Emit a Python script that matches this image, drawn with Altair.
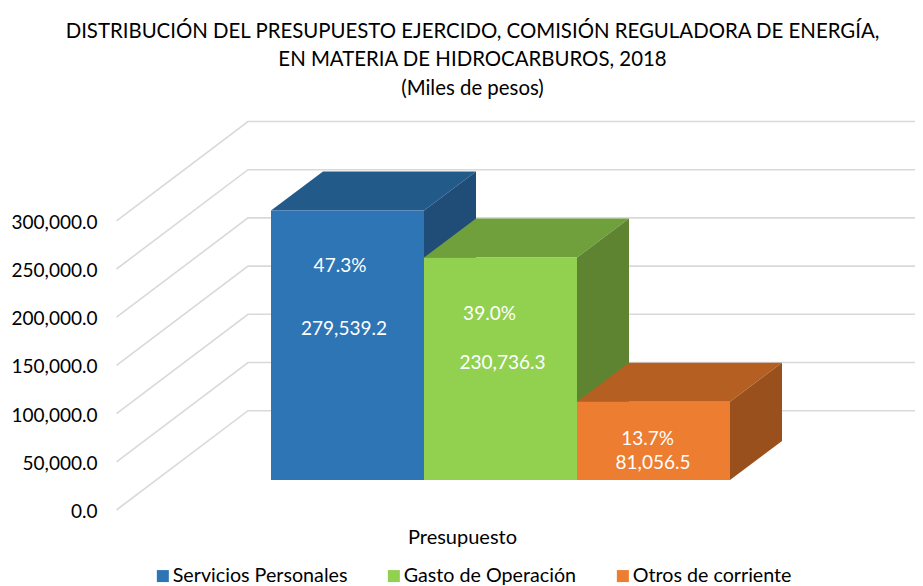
import altair as alt
import pandas as pd

# --- values
categories = ["Servicios Personales", "Gasto de Operación", "Otros de corriente"]
values = [279539.2, 230736.3, 81056.5]
value_labels = ["279,539.2", "230,736.3", "81,056.5"]
percent_labels = ["47.3%", "39.0%", "13.7%"]
ticks = [0, 50000, 100000, 150000, 200000, 250000, 300000]
title_lines = [
    "DISTRIBUCIÓN DEL PRESUPUESTO EJERCIDO, COMISIÓN REGULADORA DE ENERGÍA,",
    "EN MATERIA DE HIDROCARBUROS, 2018",
    "(Miles de pesos)",
]
front_colors = ["#2E75B6", "#92D050", "#ED7D31"]
top_colors = ["#225A8A", "#70A03B", "#B55F22"]
side_colors = ["#1F4D78", "#5F8431", "#9A501C"]

# --- layout (page pixels converted to the chart's data units)
FONT = "Lato"
TEXT = "#000000"
UNIT_PX = 153.0
K = 48.2 / 50000
PAD_TOP = 102
W, H = 907, 476


def ux(px):
    return (px - 271.0) / UNIT_PX


def uy(py):
    return (510.0 - py) / K


BASE = uy(480)
DX = 52 / UNIT_PX
DY = 39 / K
WALL = 99.3 / K
x_scale = alt.Scale(domain=[ux(8), ux(915)], nice=False, zero=False)
y_scale = alt.Scale(domain=[uy(586), uy(110)], nice=False, zero=False)

x_axis = alt.Axis(
    title="Presupuesto",
    labels=False,
    ticks=False,
    domain=False,
    grid=False,
    titleFont=FONT,
    titleFontSize=20,
    titleFontWeight="normal",
    titleColor=TEXT,
    titleX=454,
    titleY=-49,
    titleBaseline="middle",
    titleAlign="center",
)
y_axis = alt.Axis(
    title=None,
    values=ticks,
    format=",.1f",
    offset=-89,
    labelPadding=0,
    labelOffset=1.5,
    ticks=False,
    domain=False,
    grid=False,
    labelFont=FONT,
    labelFontSize=19,
    labelColor=TEXT,
)

percent_pos = [(340, 266), (489.5, 314), (647.7, 439)]
value_pos = [(344, 329), (502.5, 362.5), (653, 463)]

# --- gridlines: floor front edge to back wall, then along the wall
grid_rows = []
for t in ticks:
    grid_rows += [
        {"tick": t, "x": ux(116.5), "y": t},
        {"tick": t, "x": ux(248), "y": t + WALL},
        {"tick": t, "x": ux(915), "y": t + WALL},
    ]
grid = (
    alt.Chart(pd.DataFrame(grid_rows))
    .mark_line(color="#D9D9D9", strokeWidth=1.6)
    .encode(
        x=alt.X("x:Q", scale=x_scale, axis=x_axis),
        y=alt.Y("y:Q", scale=y_scale, axis=y_axis),
        detail="tick:N",
        order="x:Q",
    )
)

layers = [grid]

# --- top and side faces, back to front
for i, (cat, v) in enumerate(zip(categories, values)):
    x0, x1 = float(i), float(i + 1)
    b, t = BASE, BASE + v
    top = pd.DataFrame(
        {
            "x": [x0, x0 + DX, x1, x1 + DX],
            "y": [t, t, t, t + DY],
            "y2": [t, t + DY, t + DY, t + DY],
        }
    )
    side = pd.DataFrame(
        {"x": [x1, x1 + DX], "y": [b, b + DY], "y2": [t, t + DY]}
    )
    for df, col in ((top, top_colors[i]), (side, side_colors[i])):
        layers.append(
            alt.Chart(df)
            .mark_area(color=col, interpolate="linear")
            .encode(
                x=alt.X("x:Q", scale=x_scale, axis=x_axis),
                y=alt.Y("y:Q", scale=y_scale, axis=y_axis),
                y2="y2:Q",
            )
        )

# --- front faces
front = pd.DataFrame(
    {
        "cat": categories,
        "x0": [float(i) for i in range(3)],
        "x1": [float(i + 1) for i in range(3)],
        "b": [BASE] * 3,
        "t": [BASE + v for v in values],
    }
)
layers.append(
    alt.Chart(front)
    .mark_rect()
    .encode(
        x=alt.X("x0:Q", scale=x_scale, axis=x_axis),
        x2="x1:Q",
        y=alt.Y("b:Q", scale=y_scale, axis=y_axis),
        y2="t:Q",
        color=alt.Color(
            "cat:N",
            scale=alt.Scale(domain=categories, range=front_colors),
            sort=categories,
            legend=alt.Legend(
                title=None,
                orient="none",
                direction="horizontal",
                columns=3,
                legendX=145,
                legendY=456,
                padding=0,
                symbolType="square",
                symbolSize=144,
                symbolStrokeWidth=0,
                labelFont=FONT,
                labelFontSize=19.7,
                labelLimit=400,
                labelColor=TEXT,
                labelOffset=0,
                columnPadding=36,
            ),
        ),
    )
)

# --- data labels
label_rows = []
for i in range(3):
    label_rows.append(
        {"x": ux(percent_pos[i][0]), "y": uy(percent_pos[i][1]), "t": percent_labels[i]}
    )
    label_rows.append(
        {"x": ux(value_pos[i][0]), "y": uy(value_pos[i][1]), "t": value_labels[i]}
    )
layers.append(
    alt.Chart(pd.DataFrame(label_rows))
    .mark_text(color="#FFFFFF", font=FONT, fontSize=19, align="center", baseline="middle")
    .encode(
        x=alt.X("x:Q", scale=x_scale, axis=x_axis),
        y=alt.Y("y:Q", scale=y_scale, axis=y_axis),
        text="t:N",
    )
)

chart = (
    alt.layer(*layers)
    .properties(
        width=W,
        height=H,
        padding={"top": PAD_TOP, "left": 0, "right": 0, "bottom": 0},
        autosize=alt.AutoSizeParams(type="none"),
        title=alt.TitleParams(
            text=title_lines,
            font=FONT,
            fontSize=20.4,
            fontWeight="normal",
            color=TEXT,
            lineHeight=28.5,
            anchor="middle",
            dx=11,
            offset=11,
        ),
    )
    .configure_view(stroke=None)
)

chart.save("out.html", embed_options={"renderer": "svg", "actions": False})
